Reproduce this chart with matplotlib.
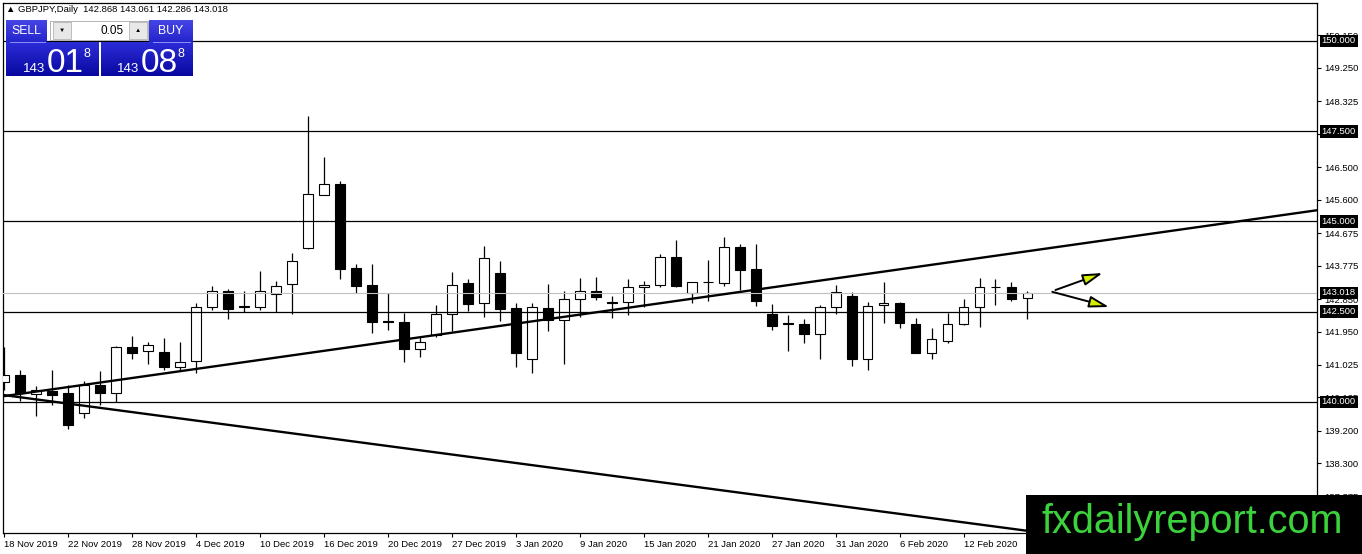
import numpy as np
import matplotlib
matplotlib.use("Agg")
import matplotlib.pyplot as plt
from matplotlib.colors import LinearSegmentedColormap
from matplotlib.patches import Rectangle

plt.rcParams['font.family'] = ['Liberation Sans', 'DejaVu Sans']

# GBPJPY daily candles, 18 Nov 2019 .. 18 Feb 2020
opens = [140.55, 140.75, 140.22, 140.30, 140.25, 139.70, 140.47, 140.25, 141.52, 141.41,
         141.39, 140.97, 141.14, 142.63, 143.07, 142.63, 142.63, 142.99, 143.27, 144.27,
         145.73, 146.04, 143.71, 143.24, 142.24, 142.22, 141.47, 141.86, 142.44, 143.30,
         142.74, 143.57, 142.60, 141.19, 142.60, 142.27, 142.85, 143.07, 142.77, 142.77,
         143.19, 143.24, 144.02, 143.02, 143.32, 143.30, 144.29, 143.68, 142.44, 142.19,
         142.16, 141.88, 142.63, 142.94, 141.19, 142.69, 142.74, 142.16, 141.36, 141.69,
         142.16, 142.63, 143.19, 143.19, 142.868]
highs = [141.52, 140.89, 140.44, 140.89, 140.47, 140.58, 140.86, 141.55, 141.83, 141.66,
         141.77, 141.66, 142.74, 143.21, 143.13, 143.07, 143.63, 143.35, 144.13, 147.92,
         146.79, 146.12, 143.82, 143.82, 143.02, 142.47, 141.83, 142.69, 143.60, 143.41,
         144.32, 143.91, 142.74, 142.74, 143.27, 143.07, 143.43, 143.46, 142.94, 143.41,
         143.35, 144.10, 144.49, 143.32, 143.93, 144.57, 144.38, 144.38, 142.71, 142.41,
         142.30, 142.69, 143.24, 143.05, 142.77, 143.32, 142.77, 142.33, 142.05, 142.47,
         142.85, 143.43, 143.41, 143.32, 143.061]
lows = [140.33, 140.03, 139.61, 139.92, 139.25, 139.56, 139.92, 140.00, 141.19, 141.05,
        140.89, 140.86, 140.80, 142.55, 142.30, 142.49, 142.55, 142.49, 142.44, 144.24,
        145.73, 143.41, 143.02, 141.91, 141.99, 141.11, 141.25, 141.80, 141.97, 142.52,
        142.35, 142.24, 140.97, 140.80, 141.97, 141.05, 142.35, 142.83, 142.33, 142.41,
        142.63, 143.19, 143.19, 142.74, 142.80, 143.21, 143.10, 142.66, 141.99, 141.41,
        141.63, 141.19, 142.44, 141.00, 140.89, 142.19, 142.05, 141.36, 141.19, 141.63,
        142.13, 142.08, 142.69, 142.80, 142.286]
closes = [140.75, 140.25, 140.33, 140.19, 139.36, 140.47, 140.25, 141.52, 141.36, 141.58,
          140.97, 141.11, 142.63, 143.07, 142.58, 142.66, 143.07, 143.21, 143.91, 145.76,
          146.04, 143.68, 143.21, 142.22, 142.22, 141.47, 141.66, 142.44, 143.24, 142.71,
          143.99, 142.58, 141.36, 142.63, 142.27, 142.85, 143.07, 142.91, 142.74, 143.19,
          143.24, 144.02, 143.21, 143.32, 143.33, 144.29, 143.66, 142.80, 142.11, 142.16,
          141.88, 142.63, 143.05, 141.19, 142.66, 142.74, 142.19, 141.36, 141.75, 142.16,
          142.63, 143.19, 143.18, 142.85, 143.018]

date_labels = ['18 Nov 2019', '22 Nov 2019', '28 Nov 2019', '4 Dec 2019', '10 Dec 2019',
               '16 Dec 2019', '20 Dec 2019', '27 Dec 2019', '3 Jan 2020', '9 Jan 2020',
               '15 Jan 2020', '21 Jan 2020', '27 Jan 2020', '31 Jan 2020', '6 Feb 2020',
               '12 Feb 2020']
price_ticks = [150.150, 149.250, 148.325, 147.425, 146.500, 145.600, 144.675, 143.775,
               142.850, 141.950, 141.025, 140.125, 139.200, 138.300, 137.375]
levels = [150.0, 147.5, 145.0, 142.5, 140.0]
bid = 143.018

# trend lines, two anchors each: (candle index, price)
up_trend = [(0, 140.16), (82.1, 145.31)]
down_trend = [(0, 140.19), (64, 136.43)]

# hand drawn arrows after the last candle: (start, end)
arrows = [((65.75, 143.10), (68.7, 143.57)),
          ((65.55, 143.05), (69.1, 142.63))]

W, H = 1362, 554
fig = plt.figure(figsize=(W / 100, H / 100), dpi=100)
ax = fig.add_axes([3 / W, 21 / H, 1314 / W, 530 / H])

# candles
o, h, l, c = (np.array(a) for a in (opens, highs, lows, closes))
idx = np.arange(len(o))
bull = c >= o
ax.vlines(idx, l, h, color='black', lw=0.9, zorder=2)
ax.bar(idx, np.maximum(np.abs(c - o), 0.01), bottom=np.minimum(o, c), width=0.62,
       color=np.where(bull, 'white', 'black'), edgecolor='black', lw=0.8, zorder=3)

# chart objects
for v in levels:
    ax.axhline(v, color='black', lw=0.9, zorder=4)
ax.axhline(bid, color='#c0c0c0', lw=0.8, zorder=4)
ax.axline(up_trend[0], up_trend[1], color='black', lw=1.7, zorder=5)
ax.axline(down_trend[0], down_trend[1], color='black', lw=1.7, zorder=5)
for start, end in arrows:
    ax.annotate('', xy=end, xytext=start, zorder=6,
                arrowprops=dict(arrowstyle='-|>,head_length=1.2,head_width=0.35',
                                lw=1.4, ec='black', fc='#d4ee00',
                                shrinkA=0, shrinkB=0))

ax.set_xlim(-0.05, 82.1)
ax.set_ylim(136.37, 151.05)

ax.set_xticks(range(0, 64, 4))
ax.set_xticklabels(date_labels)
for lbl in ax.get_xticklabels():
    lbl.set_ha('left')
ax.tick_params(axis='x', length=3, width=0.8, labelsize=6.8, pad=2)

ax.yaxis.tick_right()
ax.set_yticks(price_ticks)
ax.set_yticklabels([f'{v:.3f}' for v in price_ticks])
ax.tick_params(axis='y', length=3, width=0.8, labelsize=6.8, pad=2)
for s in ax.spines.values():
    s.set_linewidth(0.9)

# price tags on the right scale
for v in levels + [bid]:
    ax.text(1.0035, v, f'{v:.3f}', transform=ax.get_yaxis_transform(), ha='left',
            va='center', color='white', fontsize=6.8, clip_on=False, zorder=6,
            bbox=dict(boxstyle='square,pad=0.2', fc='black', ec='none'))

# overlay in pixel units: one click trading panel, header, watermark
ov = fig.add_axes([0, 0, 1, 1], zorder=10)
ov.axis('off')


def gradient_box(x0, y0, x1, y1, top, bottom):
    cmap = LinearSegmentedColormap.from_list('g', [top, bottom])
    ov.imshow(np.linspace(0, 1, 64).reshape(-1, 1), extent=[x0, x1, y1, y0],
              cmap=cmap, aspect='auto', interpolation='bilinear', zorder=1)


ov.text(6, 10, '▲ GBPJPY,Daily  142.868 143.061 142.286 143.018', fontsize=6.8,
        va='center', ha='left')

gradient_box(6, 20, 47, 42, '#4646e6', '#2424cc')
gradient_box(149, 20, 193, 42, '#4646e6', '#2424cc')
gradient_box(6, 42, 99, 76, '#2c2cd8', '#0808a0')
gradient_box(101, 42, 193, 76, '#2c2cd8', '#0808a0')
ov.plot([10, 45], [41.5, 41.5], color='#a0a0ff', lw=0.6, zorder=2)
ov.plot([153, 190], [41.5, 41.5], color='#a0a0ff', lw=0.6, zorder=2)

ov.add_patch(Rectangle((50, 21), 98, 19, fc='white', ec='#a8a8a8', lw=0.6, zorder=2))
ov.add_patch(Rectangle((53, 22), 18, 17, fc='#e8e8e8', ec='#b4b4b4', lw=0.6, zorder=3))
ov.add_patch(Rectangle((129, 22), 18, 17, fc='#e8e8e8', ec='#b4b4b4', lw=0.6, zorder=3))
ov.text(62, 30.5, '▼', fontsize=4.5, ha='center', va='center', zorder=4)
ov.text(138, 30.5, '▲', fontsize=4.5, ha='center', va='center', zorder=4)
ov.text(124, 31, '0.05', fontsize=8.5, ha='right', va='center', zorder=4)

ov.text(26.5, 31, 'SELL', fontsize=8.8, color='white', ha='center', va='center', zorder=4)
ov.text(171, 31, 'BUY', fontsize=8.8, color='white', ha='center', va='center', zorder=4)
for x0, big in [(23, '01'), (117, '08')]:
    ov.text(x0, 72, '143', fontsize=9.5, color='white', va='baseline', zorder=4)
    ov.text(x0 + 24, 72, big, fontsize=24, color='white', va='baseline', zorder=4)
    ov.text(x0 + 60, 57, '8', fontsize=9, color='white', va='baseline', zorder=4)

ov.add_patch(Rectangle((1026, 495), 336, 59, fc='black', ec='none', zorder=2))
ov.text(1042, 533, 'fxdailyreport.com', fontsize=28.5, color='#3cd23c',
        va='baseline', ha='left', zorder=3)

ov.set_xlim(0, W)
ov.set_ylim(H, 0)

fig.savefig('out.png', dpi=100)
